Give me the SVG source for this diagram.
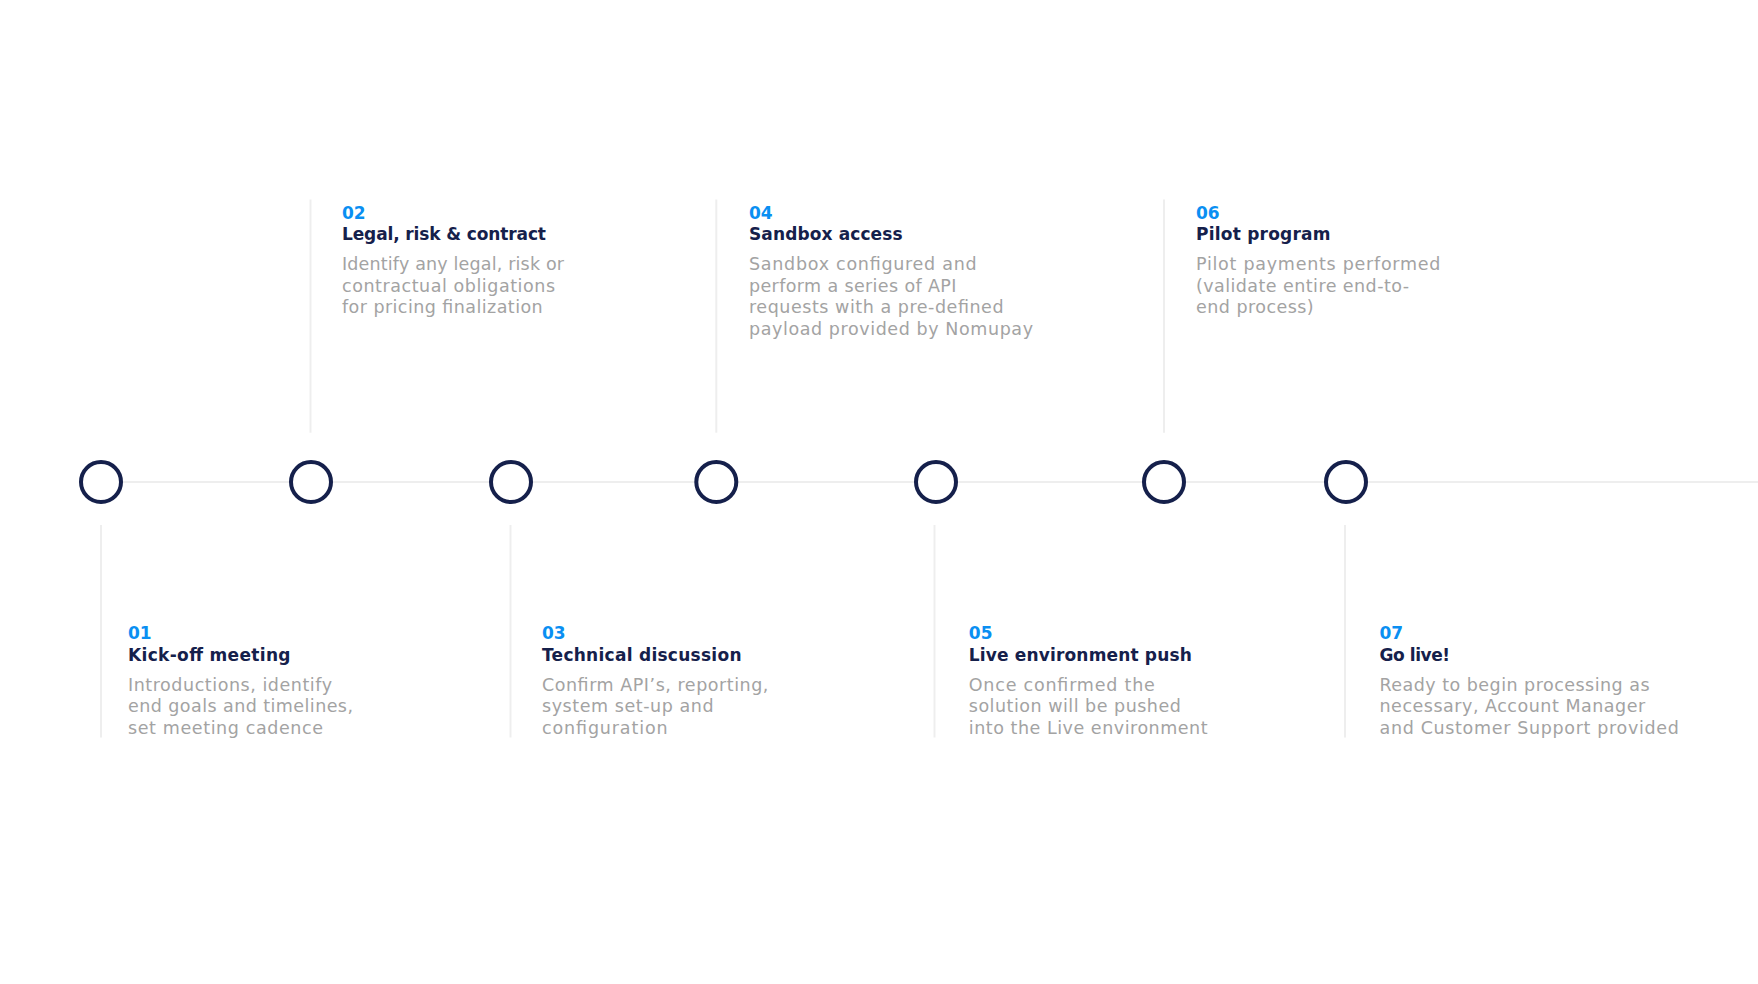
<svg xmlns="http://www.w3.org/2000/svg" width="1758" height="984" viewBox="0 0 1758 984">
<style>
  .dot{fill:#ffffff;stroke:#15204b;stroke-width:4}
  .tick{stroke:#eeeeee;stroke-width:2}
  .num{font-family:"DejaVu Sans","Liberation Sans",sans-serif;font-weight:700;font-size:17px;fill:#0a8ff2}
  .ttl{font-family:"DejaVu Sans","Liberation Sans",sans-serif;font-weight:700;font-size:17px;fill:#15204b}
  .dsc{font-family:"DejaVu Sans","Liberation Sans",sans-serif;font-weight:400;font-size:17.5px;fill:#a3a3a3}
</style>
<rect width="1758" height="984" fill="#ffffff"/>
<g id="connectors">
  <line x1="101" y1="482" x2="1758" y2="482" stroke="#eeeeee" stroke-width="2"/>
</g>
<g id="step01">
  <line class="tick" x1="101" y1="525" x2="101" y2="737.5"/>
  <circle class="dot" cx="101" cy="482" r="20"/>
  <text class="num" x="128" y="639">01</text>
  <text class="ttl" x="128" y="660.5" textLength="162.5">Kick-off meeting</text>
  <text class="dsc" x="128" y="690.5" textLength="204">Introductions, identify</text>
  <text class="dsc" x="128" y="712.2" textLength="225">end goals and timelines,</text>
  <text class="dsc" x="128" y="733.8" textLength="195">set meeting cadence</text>
</g>
<g id="step02">
  <line class="tick" x1="310.5" y1="199.5" x2="310.5" y2="432.7"/>
  <circle class="dot" cx="311" cy="482" r="20"/>
  <text class="num" x="342" y="218.5">02</text>
  <text class="ttl" x="342" y="240" textLength="204">Legal, risk &amp; contract</text>
  <text class="dsc" x="342" y="270" textLength="222">Identify any legal, risk or</text>
  <text class="dsc" x="342" y="291.7" textLength="213">contractual obligations</text>
  <text class="dsc" x="342" y="313.3" textLength="200.7">for pricing finalization</text>
</g>
<g id="step03">
  <line class="tick" x1="510.5" y1="525" x2="510.5" y2="737.5"/>
  <circle class="dot" cx="511" cy="482" r="20"/>
  <text class="num" x="542" y="639">03</text>
  <text class="ttl" x="542" y="660.5" textLength="199.5">Technical discussion</text>
  <text class="dsc" x="542" y="690.5" textLength="226.4">Confirm API’s, reporting,</text>
  <text class="dsc" x="542" y="712.2" textLength="171.5">system set-up and</text>
  <text class="dsc" x="542" y="733.8" textLength="125.6">configuration</text>
</g>
<g id="step04">
  <line class="tick" x1="716.3" y1="199.5" x2="716.3" y2="432.7"/>
  <circle class="dot" cx="716.3" cy="482" r="20"/>
  <text class="num" x="749" y="218.5">04</text>
  <text class="ttl" x="749" y="240" textLength="153.6">Sandbox access</text>
  <text class="dsc" x="749" y="270" textLength="227.6">Sandbox configured and</text>
  <text class="dsc" x="749" y="291.7" textLength="207.4">perform a series of API</text>
  <text class="dsc" x="749" y="313.3" textLength="254.5">requests with a pre-defined</text>
  <text class="dsc" x="749" y="335" textLength="284">payload provided by Nomupay</text>
</g>
<g id="step05">
  <line class="tick" x1="934.5" y1="525" x2="934.5" y2="737.5"/>
  <circle class="dot" cx="936" cy="482" r="20"/>
  <text class="num" x="968.8" y="639">05</text>
  <text class="ttl" x="968.8" y="660.5" textLength="223">Live environment push</text>
  <text class="dsc" x="968.8" y="690.5" textLength="186">Once confirmed the</text>
  <text class="dsc" x="968.8" y="712.2" textLength="212">solution will be pushed</text>
  <text class="dsc" x="968.8" y="733.8" textLength="238.8">into the Live environment</text>
</g>
<g id="step06">
  <line class="tick" x1="1164" y1="199.5" x2="1164" y2="432.7"/>
  <circle class="dot" cx="1164" cy="482" r="20"/>
  <text class="num" x="1196" y="218.5">06</text>
  <text class="ttl" x="1196" y="240" textLength="134.5">Pilot program</text>
  <text class="dsc" x="1196" y="270" textLength="244.4">Pilot payments performed</text>
  <text class="dsc" x="1196" y="291.7" textLength="213">(validate entire end-to-</text>
  <text class="dsc" x="1196" y="313.3" textLength="117.7">end process)</text>
</g>
<g id="step07">
  <line class="tick" x1="1345" y1="525" x2="1345" y2="737.5"/>
  <circle class="dot" cx="1346" cy="482" r="20"/>
  <text class="num" x="1379.5" y="639">07</text>
  <text class="ttl" x="1379.5" y="660.5" textLength="70.6">Go live!</text>
  <text class="dsc" x="1379.5" y="690.5" textLength="270">Ready to begin processing as</text>
  <text class="dsc" x="1379.5" y="712.2" textLength="265.7">necessary, Account Manager</text>
  <text class="dsc" x="1379.5" y="733.8" textLength="299.3">and Customer Support provided</text>
</g>
</svg>
